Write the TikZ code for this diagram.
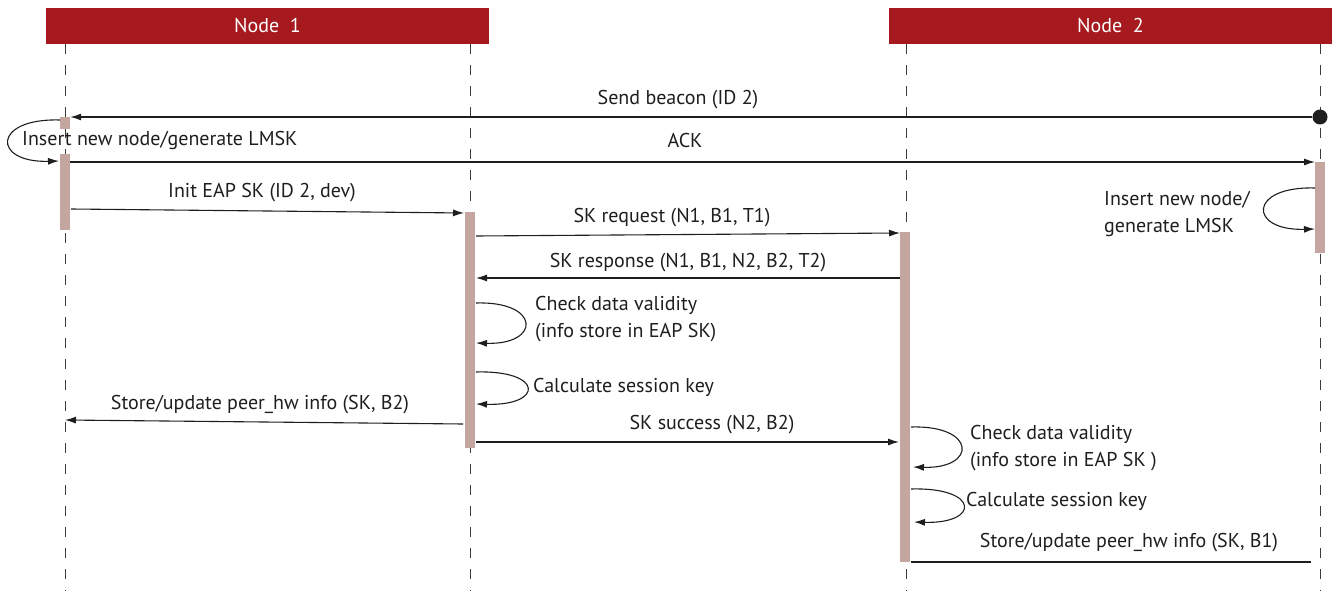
\documentclass[tikz,border=0pt]{standalone}
\usepackage{fontspec}
\setmainfont{PT Sans}
\usetikzlibrary{arrows.meta,calc}
\definecolor{hdr}{RGB}{166,25,30}
\definecolor{actc}{RGB}{196,165,160}
\definecolor{ln}{RGB}{30,30,30}
\definecolor{life}{RGB}{60,60,60}
\tikzset{
  hdrbox/.style={fill=hdr,draw=none,text=white,minimum width=443pt,minimum height=36pt,inner sep=0pt,font=\fontsize{20}{24}\selectfont},
  lifeline/.style={draw=life,line width=1pt,dash pattern=on 10pt off 11pt},
  actbar/.style={fill=actc,draw=none,minimum width=10pt,inner sep=0pt},
  msg/.style={draw=ln,line width=1.1pt,-{Latex[length=11pt,width=7pt]}},
  plain/.style={draw=ln,line width=1.1pt},
  lbl/.style={font=\fontsize{20}{27}\selectfont,text=ln,inner sep=0pt},
}
\begin{document}
\begin{tikzpicture}[x=1pt,y=-1pt]
\useasboundingbox (0,0) rectangle (1339,591);
% headers
\node[hdrbox] (h1) at (267.5,26) {Node\ \ 1};
\node[hdrbox] (h2) at (1110.5,26) {Node\ \ 2};
% lifelines
\coordinate (l1t) at (65,44); \coordinate (l1b) at (65,591);
\coordinate (l2t) at (470,44); \coordinate (l2b) at (470,591);
\coordinate (l3t) at (906,44); \coordinate (l3b) at (906,591);
\coordinate (l4t) at (1320,44); \coordinate (l4b) at (1320,591);
\draw[lifeline] (l1t) -- (l1b);
\draw[lifeline] (l2t) -- (l2b);
\draw[lifeline] (l3t) -- (l3b);
\draw[lifeline] (l4t) -- (l4b);
% activation bars
\node[actbar,minimum height=12pt] (a1) at (65,123) {};
\node[actbar,minimum height=76pt] (a2) at (65,192) {};
\node[actbar,minimum height=91pt] (a3) at (1320,207.5) {};
\node[actbar,minimum height=236pt] (a4) at (470,330) {};
\node[actbar,minimum height=330pt] (a5) at (905,397) {};
% beacon
\node[circle,fill=ln,minimum size=15pt,inner sep=0pt] (dot) at (1320,117) {};
\draw[msg] (dot.west) -- (a1.east |- dot.west);
\node[lbl] (tbeacon) at (678,100) {Send beacon (ID 2)};
% self loop node 1
\coordinate (s1) at (60,120); \coordinate (e1) at (59,161);
\draw[msg] (s1) .. controls (-8,118) and (-8,163) .. (e1);
\node[lbl,anchor=west] (tins1) at (22,141) {Insert new node/generate LMSK};
% ACK
\coordinate (ack1) at (70,162); \coordinate (ack2) at (1315,162);
\draw[msg] (ack1) -- (ack2);
\node[lbl] (tack) at (685,141) {ACK};
% self loop node 2 (right)
\coordinate (s2) at (1315,188); \coordinate (e2) at (1315,229);
\draw[msg] (s2) .. controls (1248,186) and (1248,231) .. (e2);
\node[lbl,anchor=west,align=left] (tins2) at (1104,214) {Insert new node/\\generate LMSK};
% Init EAP SK
\coordinate (i1) at (71,209); \coordinate (i2) at (464,213);
\draw[msg] (i1) -- (i2);
\node[lbl] (tinit) at (262,193) {Init EAP SK (ID 2, dev)};
% SK request
\coordinate (r1) at (476,236); \coordinate (r2) at (900,233);
\draw[msg] (r1) -- (r2);
\node[lbl] (treq) at (672,218) {SK request (N1, B1, T1)};
% SK response
\coordinate (p1) at (900,278); \coordinate (p2) at (476,278);
\draw[msg] (p1) -- (p2);
\node[lbl] (tresp) at (688,263) {SK response (N1, B1, N2, B2, T2)};
% check data validity (node1 side)
\coordinate (c1s) at (476,303); \coordinate (c1e) at (476,343);
\draw[msg] (c1s) .. controls (541,301) and (541,345) .. (c1e);
\node[lbl,anchor=west,align=left] (tchk1) at (535,319) {Check data validity\\(info store in EAP SK)};
% calculate session key 1
\coordinate (k1s) at (476,372); \coordinate (k1e) at (476,404);
\draw[msg] (k1s) .. controls (544,370) and (544,406) .. (k1e);
\node[lbl,anchor=west] (tcalc1) at (533,387) {Calculate session key};
% store/update B2
\coordinate (u1) at (463,424); \coordinate (u2) at (65,420);
\draw[msg] (u1) -- (u2);
\node[lbl] (tup1) at (260,405) {Store/update peer\_hw info (SK, B2)};
% SK success
\coordinate (ss1) at (476,442); \coordinate (ss2) at (899,442);
\draw[msg] (ss1) -- (ss2);
\node[lbl] (tsucc) at (712,425) {SK success (N2, B2)};
% check data validity (node2 side)
\coordinate (c2s) at (911,427); \coordinate (c2e) at (913,467);
\draw[msg] (c2s) .. controls (977,425) and (977,469) .. (c2e);
\node[lbl,anchor=west,align=left] (tchk2) at (970,448) {Check data validity\\(info store in EAP SK )};
% calculate session key 2
\coordinate (k2s) at (911,489); \coordinate (k2e) at (914,522);
\draw[msg] (k2s) .. controls (980,487) and (980,524) .. (k2e);
\node[lbl,anchor=west] (tcalc2) at (966,501) {Calculate session key};
% store/update B1
\coordinate (v1) at (911,562); \coordinate (v2) at (1311,562);
\draw[plain] (v1) -- (v2);
\node[lbl] (tup2) at (1129,543) {Store/update peer\_hw info (SK, B1)};
\end{tikzpicture}
\end{document}
